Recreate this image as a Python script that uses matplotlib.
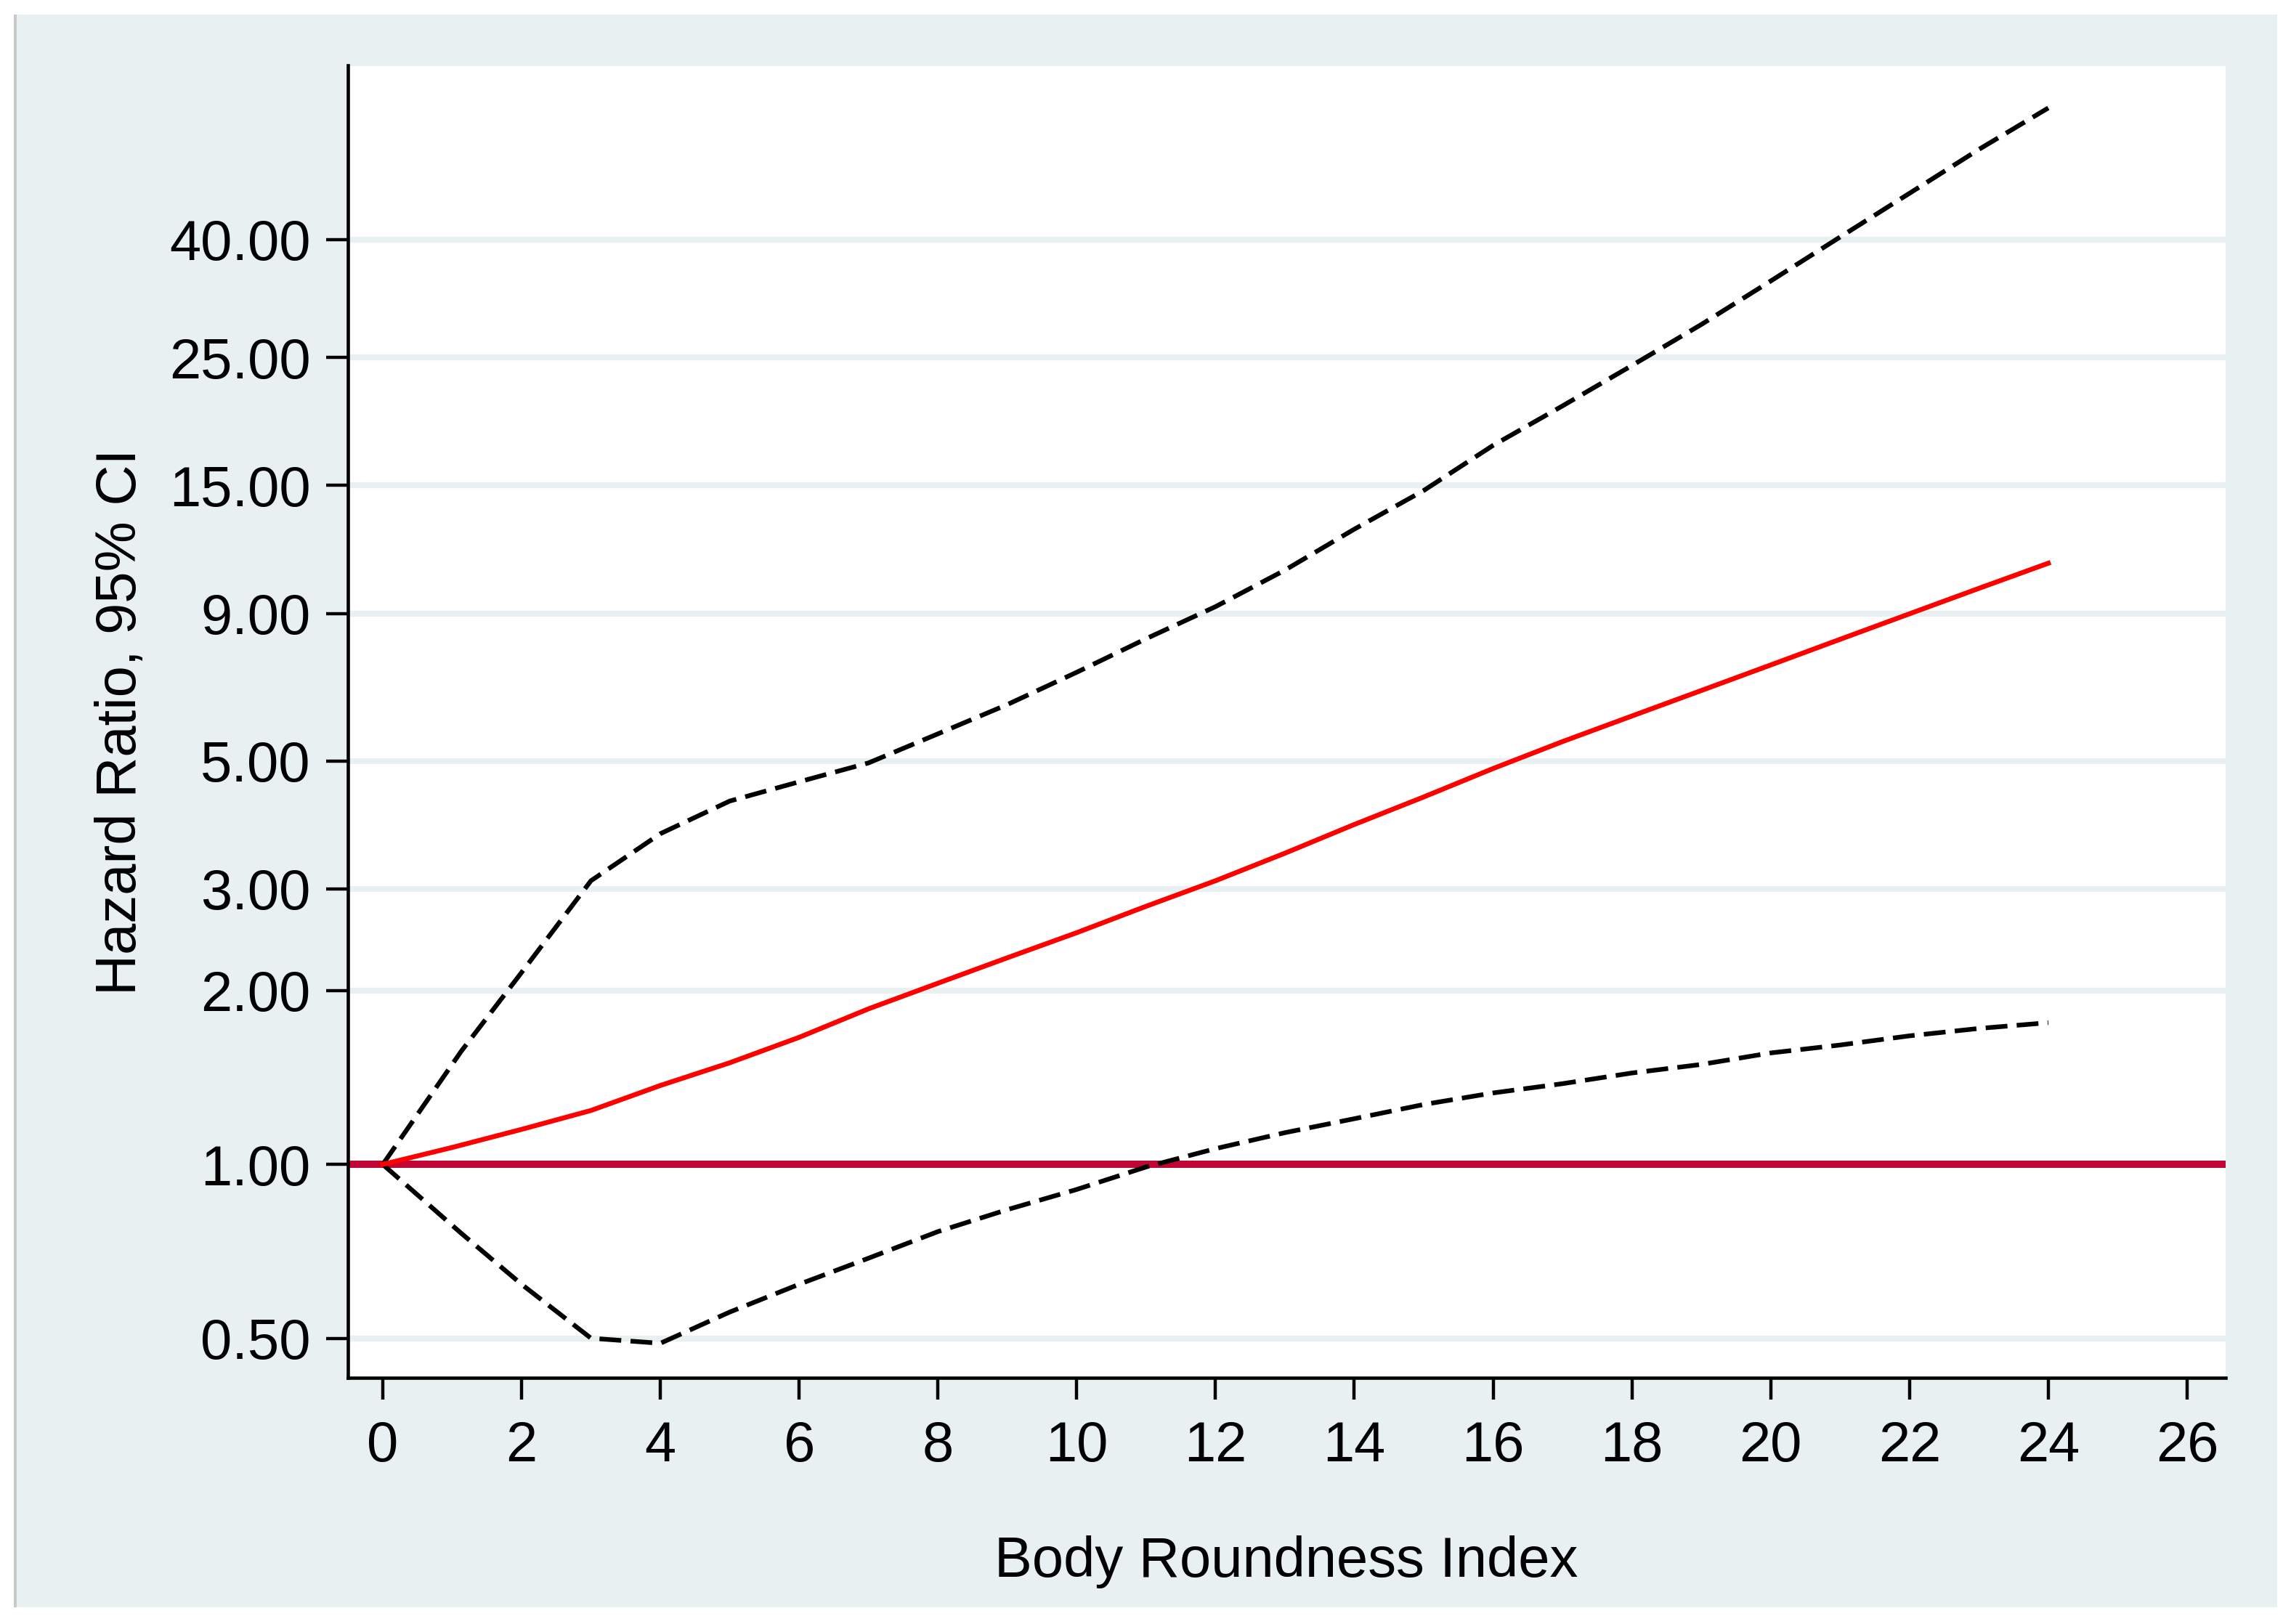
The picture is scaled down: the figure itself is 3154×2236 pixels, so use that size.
import matplotlib
matplotlib.use('Agg')
import matplotlib.pyplot as plt
from matplotlib.patches import Rectangle

plt.rcParams['font.family'] = ['Liberation Sans', 'DejaVu Sans']

# Body Roundness Index vs hazard ratio
bri = [0, 1, 2, 3, 4, 5, 6, 7, 8, 9, 10, 11, 12, 13, 14, 15, 16, 17, 18, 19, 20, 21, 22, 23, 24]
hr = [1.00, 1.07, 1.15, 1.24, 1.37, 1.50, 1.66, 1.86, 2.06, 2.28, 2.52, 2.80, 3.10, 3.46, 3.88, 4.33, 4.85, 5.40, 5.98, 6.62, 7.33, 8.12, 8.99, 9.95, 11.0]

ci_x = [0, 1.13, 2, 3, 4, 5, 6, 7, 8, 9, 10, 11, 12, 13, 14, 15, 16, 17, 18, 19, 20, 21, 22, 23, 24]
ci_upper = [1.00, 1.57, 2.15, 3.10, 3.74, 4.26, 4.60, 4.96, 5.57, 6.26, 7.12, 8.14, 9.25, 10.7, 12.6, 14.7, 17.6, 20.6, 24.2, 28.5, 33.9, 40.4, 48.1, 57.3, 67.6]
ci_lower = [1.00, 0.76, 0.62, 0.50, 0.49, 0.555, 0.62, 0.688, 0.765, 0.835, 0.905, 0.99, 1.065, 1.135, 1.20, 1.27, 1.33, 1.38, 1.44, 1.49, 1.56, 1.61, 1.67, 1.72, 1.76]

y_ticks = [0.5, 1, 2, 3, 5, 9, 15, 25, 40]
x_ticks = list(range(0, 27, 2))

bg = '#E8F0F2'

fig = plt.figure(figsize=(31.54, 22.36), dpi=100, facecolor='white')
fig.patches.append(Rectangle((23 / 3154, 1 - 2213 / 2236), (3135 - 23) / 3154, (2213 - 20) / 2236,
                             transform=fig.transFigure, facecolor=bg, edgecolor='none', zorder=-10))
fig.patches.append(Rectangle((19 / 3154, 1 - 2213 / 2236), 4 / 3154, (2213 - 20) / 2236,
                             transform=fig.transFigure, facecolor='#C8C8C8', edgecolor='none', zorder=-10))

ax = fig.add_axes([478.7 / 3154, 1 - 1897 / 2236, (3063.5 - 478.7) / 3154, (1897 - 90.5) / 2236])
ax.set_facecolor('white')
ax.set_yscale('log')
ax.set_xlim(-0.505, 26.55)
ax.set_ylim(0.427, 80)

for v in y_ticks:
    ax.axhline(v, color=bg, lw=6, zorder=1)
ax.axhline(1, color='#C10534', lw=7.2, zorder=2)

ax.plot(ci_x, ci_upper, color='black', lw=4.6, ls=(0, (4.7, 2.0)), zorder=3)
ax.plot(ci_x, ci_lower, color='black', lw=4.6, ls=(0, (4.7, 2.0)), zorder=3)
ax.plot(bri, hr, color='#FF0000', lw=4.8, zorder=4)

ax.set_yticks(y_ticks)
ax.set_yticklabels([f'{v:.2f}' for v in y_ticks])
ax.yaxis.set_minor_locator(matplotlib.ticker.NullLocator())
ax.set_xticks(x_ticks)

for s in ['top', 'right']:
    ax.spines[s].set_visible(False)
for s in ['left', 'bottom']:
    ax.spines[s].set_linewidth(3.3)
ax.tick_params(axis='both', length=21.6, width=3.2, labelsize=56, direction='out')
ax.tick_params(axis='y', pad=15)
ax.tick_params(axis='x', pad=20)

ax.set_xlabel('Body Roundness Index', fontsize=56, labelpad=62)
ax.set_ylabel('Hazard Ratio, 95% CI', fontsize=56, labelpad=22)

fig.savefig('out.png', dpi=100, facecolor='white')
